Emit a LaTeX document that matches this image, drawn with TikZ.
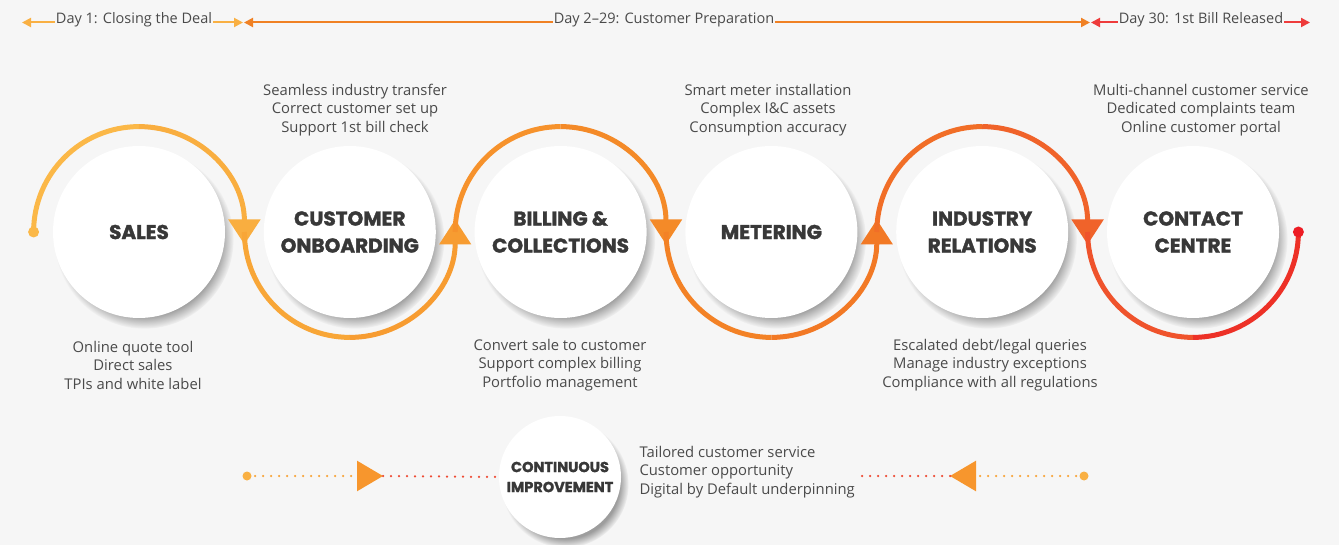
\documentclass[tikz,border=0pt]{standalone}
\usepackage{fontspec}
\setmainfont{Open Sans}
\newfontfamily\headfont{Poppins}[BoldFeatures={FakeBold=1.6}]
\usetikzlibrary{arrows.meta,shadows}

\definecolor{bgrey}{HTML}{F6F6F6}
\definecolor{txtgrey}{HTML}{4A4A4A}
\definecolor{headgrey}{HTML}{383838}
\definecolor{dayone}{HTML}{F9B043}
\definecolor{daymid}{HTML}{F08124}
\definecolor{dayend}{HTML}{EE3B3B}
\definecolor{arcAa}{HTML}{FBB848}\definecolor{arcAb}{HTML}{F9AE40}
\definecolor{arcBa}{HTML}{F8A637}\definecolor{arcBb}{HTML}{F79C31}
\definecolor{arcCa}{HTML}{F6922C}\definecolor{arcCb}{HTML}{F48A28}
\definecolor{arcDa}{HTML}{F38226}\definecolor{arcDb}{HTML}{F27925}
\definecolor{arcEa}{HTML}{F16E27}\definecolor{arcEb}{HTML}{F0632A}
\definecolor{arcFa}{HTML}{EF532C}\definecolor{arcFb}{HTML}{ED3127}
\definecolor{enddot}{HTML}{ED1C24}
\definecolor{dotout}{HTML}{F8A53A}
\definecolor{dotin}{HTML}{EE4A33}
\definecolor{improvetip}{HTML}{F7962D}

\begin{document}
\begin{tikzpicture}[x=1pt,y=1pt,
stage/.style={circle,fill=white,minimum size=172pt,inner sep=0pt,align=center,text=headgrey,
  font=\headfont\bfseries\fontsize{20}{27}\selectfont,
  circular drop shadow={shadow xshift=5pt,shadow yshift=-7pt,shadow scale=1.04,opacity=0.75}},
smallstage/.style={stage,minimum size=122pt,font=\headfont\bfseries\fontsize{14.5}{20}\selectfont},
notes/.style={align=center,text=txtgrey,font=\fontsize{14.8}{18.5}\selectfont},
daylabel/.style={fill=bgrey,inner xsep=1pt,inner ysep=0pt,text=txtgrey,font=\fontsize{14.5}{16}\selectfont},
dayline/.style={line width=2pt,{Triangle[length=9pt,width=9pt]}-{Triangle[length=9pt,width=9pt]}},
ring/.style={line width=5pt},
flowtip/.style={-{Triangle[length=25pt,width=31pt]},shorten >=-12.5pt},
dotline/.style={line width=2.5pt,line cap=round,dash pattern=on 0pt off 8pt}]
\useasboundingbox[fill=bgrey] (0,0) rectangle (1339,-545);

% timeline
\coordinate (d1a) at (22,-22.5);
\coordinate (d1b) at (243,-22.5);
\coordinate (d2a) at (244,-22.5);
\coordinate (d2b) at (1090,-22.5);
\coordinate (d3a) at (1091,-22.5);
\coordinate (d3b) at (1310,-22.5);
\draw[dayline,dayone] (d1a) -- (d1b);
\draw[dayline,daymid] (d2a) -- (d2b);
\draw[dayline,dayend] (d3a) -- (d3b);
\node[daylabel] (day1) at (134,-20) {Day 1: Closing the Deal};
\node[daylabel] (day2) at (664,-20) {Day 2–29: Customer Preparation};
\node[daylabel] (day3) at (1201,-20) {Day 30: 1st Bill Released};

% stages
\node[stage] (sales) at (139,-232) {SALES};
\node[stage] (onboard) at (349.8,-232) {CUSTOMER\\ONBOARDING};
\node[stage] (billing) at (560.6,-232) {BILLING \&\\COLLECTIONS};
\node[stage] (meter) at (771.4,-232) {METERING};
\node[stage] (industry) at (982.2,-232) {INDUSTRY\\RELATIONS};
\node[stage] (contact) at (1193,-232) {CONTACT\\CENTRE};

% junctions between the loops
\foreach \i in {0,...,6}
  \coordinate (j\i) at (33.6+210.8*\i,-232);

% the snake of loops
\draw[ring,arcAa] (j0) arc[start angle=180,end angle=90,radius=105.4] coordinate (m1);
\draw[ring,arcAb,flowtip] (m1) arc[start angle=90,end angle=0,radius=105.4];
\draw[ring,arcBa] (j1) arc[start angle=180,end angle=270,radius=105.4] coordinate (m2);
\draw[ring,arcBb,flowtip] (m2) arc[start angle=270,end angle=360,radius=105.4];
\draw[ring,arcCa] (j2) arc[start angle=180,end angle=90,radius=105.4] coordinate (m3);
\draw[ring,arcCb,flowtip] (m3) arc[start angle=90,end angle=0,radius=105.4];
\draw[ring,arcDa] (j3) arc[start angle=180,end angle=270,radius=105.4] coordinate (m4);
\draw[ring,arcDb,flowtip] (m4) arc[start angle=270,end angle=360,radius=105.4];
\draw[ring,arcEa] (j4) arc[start angle=180,end angle=90,radius=105.4] coordinate (m5);
\draw[ring,arcEb,flowtip] (m5) arc[start angle=90,end angle=0,radius=105.4];
\draw[ring,arcFa] (j5) arc[start angle=180,end angle=270,radius=105.4] coordinate (m6);
\draw[ring,arcFb] (m6) arc[start angle=270,end angle=360,radius=105.4];
\fill[arcAa] (j0) circle (5.5);
\fill[enddot] (j6) circle (5.5);

% notes
\node[notes] (onboardnotes) at (355,-110) {Seamless industry transfer\\Correct customer set up\\Support 1st bill check};
\node[notes] (meternotes) at (768,-110) {Smart meter installation\\Complex I\&C assets\\Consumption accuracy};
\node[notes] (contactnotes) at (1201,-110) {Multi-channel customer service\\Dedicated complaints team\\Online customer portal};
\node[notes] (salesnotes) at (133,-365) {Online quote tool\\Direct sales\\TPIs and white label};
\node[notes] (billingnotes) at (560,-365) {Convert sale to customer\\Support complex billing\\Portfolio management};
\node[notes] (industrynotes) at (990,-365) {Escalated debt/legal queries\\Manage industry exceptions\\Compliance with all regulations};

% continuous improvement
\node[smallstage] (improve) at (560,-477) {CONTINUOUS\\IMPROVEMENT};
\node[notes,align=left,anchor=west] (improvenotes) at (636,-472) {Tailored customer service\\Customer opportunity\\Digital by Default underpinning};
\coordinate (l0) at (247,-476);
\coordinate (la) at (383,-476);
\coordinate (r0) at (1084,-476);
\coordinate (ra) at (950,-476);
\coordinate (rend) at (858,-476);
\draw[dotline,dotout,-{Triangle[length=26pt,width=30pt,fill=improvetip,color=improvetip]}] (l0) -- (la);
\draw[dotline,dotin] (la) -- (improve.west);
\draw[dotline,dotout,-{Triangle[length=26pt,width=30pt,fill=improvetip,color=improvetip]}] (r0) -- (ra);
\draw[dotline,dotin] (ra) -- (rend);
\fill[dayone] (l0) circle (4.5);
\fill[dayone] (r0) circle (4.5);
\end{tikzpicture}
\end{document}
